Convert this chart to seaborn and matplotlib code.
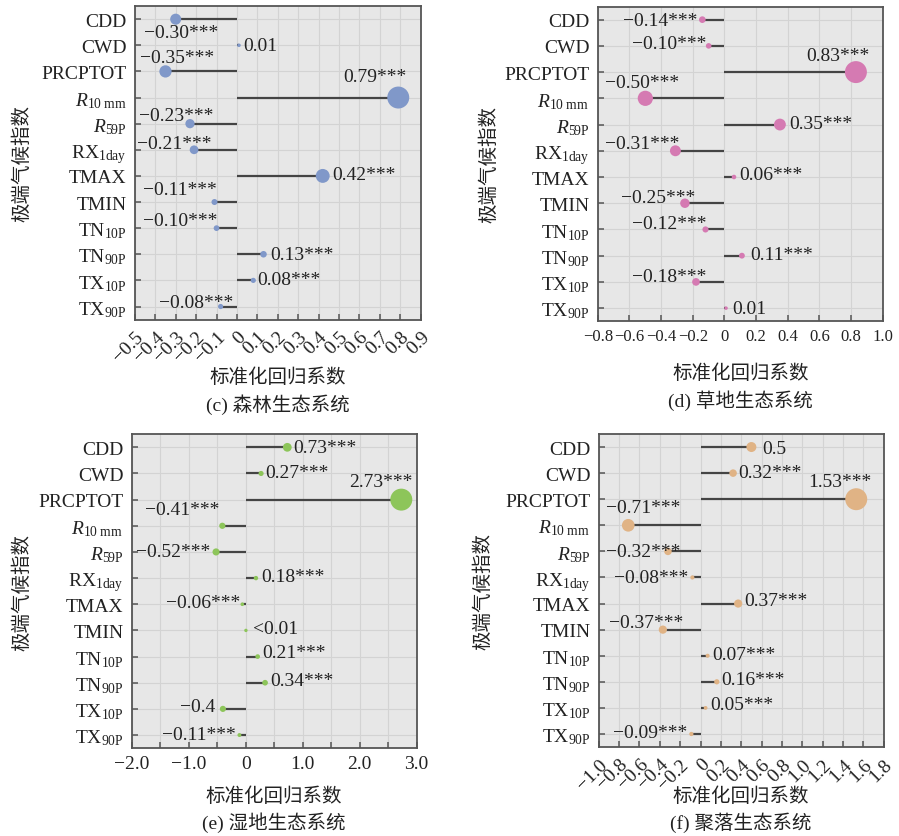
import numpy as np
import pandas as pd
import matplotlib
matplotlib.use("Agg")
import matplotlib.pyplot as plt
import seaborn as sns
from matplotlib.colors import PowerNorm
from matplotlib.ticker import MultipleLocator

# ---------------------------------------------------------------- data
indices = ["CDD", "CWD", "PRCPTOT", "R10mm", "R59P", "RX1day",
           "TMAX", "TMIN", "TN10P", "TN90P", "TX10P", "TX90P"]
index_ticklabels = ["CDD", "CWD", "PRCPTOT",
                    r"$\mathit{R}_{\mathrm{10\ mm}}$",
                    r"$\mathit{R}_{\mathrm{59P}}$",
                    r"RX$_{\mathrm{1day}}$",
                    "TMAX", "TMIN",
                    r"TN$_{\mathrm{10P}}$", r"TN$_{\mathrm{90P}}$",
                    r"TX$_{\mathrm{10P}}$", r"TX$_{\mathrm{90P}}$"]

forest_values = [-0.30, 0.01, -0.35, 0.79, -0.23, -0.21,
                 0.42, -0.11, -0.10, 0.13, 0.08, -0.08]
forest_labels = ["−0.30***", "0.01", "−0.35***", "0.79***", "−0.23***", "−0.21***",
                 "0.42***", "−0.11***", "−0.10***", "0.13***", "0.08***", "−0.08***"]

grass_values = [-0.14, -0.10, 0.83, -0.50, 0.35, -0.31,
                0.06, -0.25, -0.12, 0.11, -0.18, 0.01]
grass_labels = ["−0.14***", "−0.10***", "0.83***", "−0.50***", "0.35***", "−0.31***",
                "0.06***", "−0.25***", "−0.12***", "0.11***", "−0.18***", "0.01"]

wetland_values = [0.73, 0.27, 2.73, -0.41, -0.52, 0.18,
                  -0.06, 0.004, 0.21, 0.34, -0.4, -0.11]
wetland_labels = ["0.73***", "0.27***", "2.73***", "−0.41***", "−0.52***", "0.18***",
                  "−0.06***", "<0.01", "0.21***", "0.34***", "−0.4", "−0.11***"]

settle_values = [0.5, 0.32, 1.53, -0.71, -0.32, -0.08,
                 0.37, -0.37, 0.07, 0.16, 0.05, -0.09]
settle_labels = ["0.5", "0.32***", "1.53***", "−0.71***", "−0.32***", "−0.08***",
                 "0.37***", "−0.37***", "0.07***", "0.16***", "0.05***", "−0.09***"]

forest_ticks = [-0.5, -0.4, -0.3, -0.2, -0.1, 0, 0.1, 0.2, 0.3, 0.4, 0.5, 0.6, 0.7, 0.8, 0.9]
forest_ticklabels = ["−0.5", "−0.4", "−0.3", "−0.2", "−0.1", "0", "0.1", "0.2",
                     "0.3", "0.4", "0.5", "0.6", "0.7", "0.8", "0.9"]
grass_ticks = [-0.8, -0.6, -0.4, -0.2, 0, 0.2, 0.4, 0.6, 0.8, 1.0]
grass_ticklabels = ["−0.8", "−0.6", "−0.4", "−0.2", "0", "0.2", "0.4", "0.6", "0.8", "1.0"]
wetland_ticks = [-2.0, -1.0, 0, 1.0, 2.0, 3.0]
wetland_ticklabels = ["−2.0", "−1.0", "0", "1.0", "2.0", "3.0"]
settle_ticks = [-1.0, -0.8, -0.6, -0.4, -0.2, 0, 0.2, 0.4, 0.6, 0.8, 1.0, 1.2, 1.4, 1.6, 1.8]
settle_ticklabels = ["−1.0", "−0.8", "−0.6", "−0.4", "−0.2", "0", "0.2", "0.4", "0.6",
                     "0.8", "1.0", "1.2", "1.4", "1.6", "1.8"]

xlabel_text = "标准化回归系数"
ylabel_text = "极端气候指数"
titles = ["(c) 森林生态系统", "(d) 草地生态系统", "(e) 湿地生态系统", "(f) 聚落生态系统"]

# ---------------------------------------------------------------- layout / style
# value-label offsets from each dot, in pixels (dx to the right, dy downward)
forest_offsets = [(5.5, 13), (21, 0), (12, -14), (-23, -21), (-14, -8), (-20, -6),
                  (41.5, -1), (-34.6, -13), (-36.6, -7.4), (38, 0), (36, -1), (-24.7, -4)]
grass_offsets = [(-42, 0.7), (-39, -2), (-17.7, -16.7), (-3.5, -16.3), (41.4, -1), (-33.5, -7),
                 (37.2, -3), (-26.6, -6), (-36, -5.6), (39.3, -1), (-26.6, -5.7), (23.4, 0)]
wetland_offsets = [(37.6, 0), (35.4, -0.6), (-20.8, -18.4), (-40, -16), (-42.8, 0), (37.1, -2),
                   (-39.6, -2.2), (30, -2), (36, -4), (36.4, -2), (-25, -2.3), (-40.5, -0.7)]
settle_offsets = [(23, 1), (36.6, -0.5), (-16.8, -18.2), (14.6, -17.7), (-24.7, 0), (-41.6, 0),
                  (38, -2.6), (-17.2, -7), (35.8, -1.5), (36, -2.6), (36.4, -3), (-41.3, -1.7)]

panels = [
    dict(values=forest_values, labels=forest_labels, offsets=forest_offsets,
         color="#8098c9", xlim=(-0.5, 0.9), ticks=forest_ticks, ticklabels=forest_ticklabels,
         rotate=True, minor=None, xtick_fs=14, rect=[0.150, 0.617, 0.318, 0.3745],
         xlab_y=-0.182, title_y=-0.269, ylab_x=-0.395),
    dict(values=grass_values, labels=grass_labels, offsets=grass_offsets,
         color="#d57ab2", xlim=(-0.8, 1.0), ticks=grass_ticks, ticklabels=grass_ticklabels,
         rotate=False, minor=None, xtick_fs=12, rect=[0.665, 0.615, 0.317, 0.376],
         xlab_y=-0.162, title_y=-0.248, ylab_x=-0.381),
    dict(values=wetland_values, labels=wetland_labels, offsets=wetland_offsets,
         color="#8dc55a", xlim=(-2.0, 3.0), ticks=wetland_ticks, ticklabels=wetland_ticklabels,
         rotate=False, minor=0.5, xtick_fs=14, rect=[0.1465, 0.105, 0.317, 0.375],
         xlab_y=-0.153, title_y=-0.236, ylab_x=-0.383),
    dict(values=settle_values, labels=settle_labels, offsets=settle_offsets,
         color="#e0b385", xlim=(-1.0, 1.8), ticks=settle_ticks, ticklabels=settle_ticklabels,
         rotate=True, minor=None, xtick_fs=14, rect=[0.666, 0.1063, 0.317, 0.374],
         xlab_y=-0.157, title_y=-0.240, ylab_x=-0.405),
]

sns.set_style("ticks")
SERIF = ["Liberation Serif", "Noto Sans CJK SC", "DejaVu Sans"]
plt.rcParams["font.family"] = SERIF
plt.rcParams["mathtext.fontset"] = "custom"
plt.rcParams["mathtext.rm"] = "Liberation Serif"
plt.rcParams["mathtext.it"] = "Liberation Serif:italic"
plt.rcParams["axes.unicode_minus"] = True

FS = 14
BG = "#e7e7e7"
GRID = "#d3d3d3"
SPINE = "#555555"
STEM = "#444444"
INK = "#222222"

fig = plt.figure(figsize=(8.99, 8.37), dpi=100)

for title, p in zip(titles, panels):
    ax = fig.add_axes(p["rect"])
    ax.set_facecolor(BG)
    df = pd.DataFrame({
        "index": indices,
        "pos": np.arange(len(indices)),
        "value": p["values"],
    })
    df["magnitude"] = df["value"].abs()

    # stems from zero to each coefficient
    ax.hlines(df["pos"], 0, df["value"], color=STEM, lw=1.6, zorder=2)

    # dots sized by coefficient magnitude
    sns.scatterplot(data=df, x="value", y="pos", size="magnitude",
                    sizes=(6, 250),
                    size_norm=PowerNorm(gamma=1.5, vmin=0, vmax=df["magnitude"].max()),
                    color=p["color"], edgecolor="none", linewidth=0,
                    legend=False, ax=ax, zorder=3)

    for v, y, text, (dx, dy) in zip(df["value"], df["pos"], p["labels"], p["offsets"]):
        ax.annotate(text, xy=(v, y), xytext=(dx, -dy), textcoords="offset pixels",
                    ha="center", va="center", fontsize=FS, color=INK, zorder=4)

    ax.set_xlim(*p["xlim"])
    ax.set_ylim(len(indices) - 0.5, -0.5)
    ax.set_yticks(df["pos"], index_ticklabels)
    if p["rotate"]:
        ax.set_xticks(p["ticks"], p["ticklabels"], rotation=45, ha="right",
                      va="top", rotation_mode="anchor")
    else:
        ax.set_xticks(p["ticks"], p["ticklabels"])
    if p["minor"]:
        ax.xaxis.set_minor_locator(MultipleLocator(p["minor"]))
        ax.grid(True, which="minor", axis="x", color=GRID, lw=0.8)
        ax.tick_params(axis="x", which="minor", direction="in", length=4,
                       width=1.1, color=SPINE)

    ax.grid(True, which="major", color=GRID, lw=0.8)
    ax.set_axisbelow(True)
    ax.tick_params(axis="both", which="major", direction="in", length=4.5,
                   width=1.1, color=SPINE, labelsize=FS, labelcolor=INK)
    ax.tick_params(axis="x", labelsize=p["xtick_fs"], pad=6 if p["rotate"] else 5)
    ax.tick_params(axis="y", pad=6)
    for s in ax.spines.values():
        s.set_color(SPINE)
        s.set_linewidth(1.3)
    ax.set_xlabel("")
    ax.set_ylabel("")

    ax.text(0.5, p["xlab_y"], xlabel_text, transform=ax.transAxes,
            ha="center", va="center", fontsize=FS, color=INK)
    ax.text(0.5, p["title_y"], title, transform=ax.transAxes,
            ha="center", va="center", fontsize=FS, color=INK)
    ax.text(p["ylab_x"], 0.5, ylabel_text, transform=ax.transAxes, rotation=90,
            ha="center", va="center", fontsize=FS, color=INK)

fig.savefig("out.png", dpi=100)
